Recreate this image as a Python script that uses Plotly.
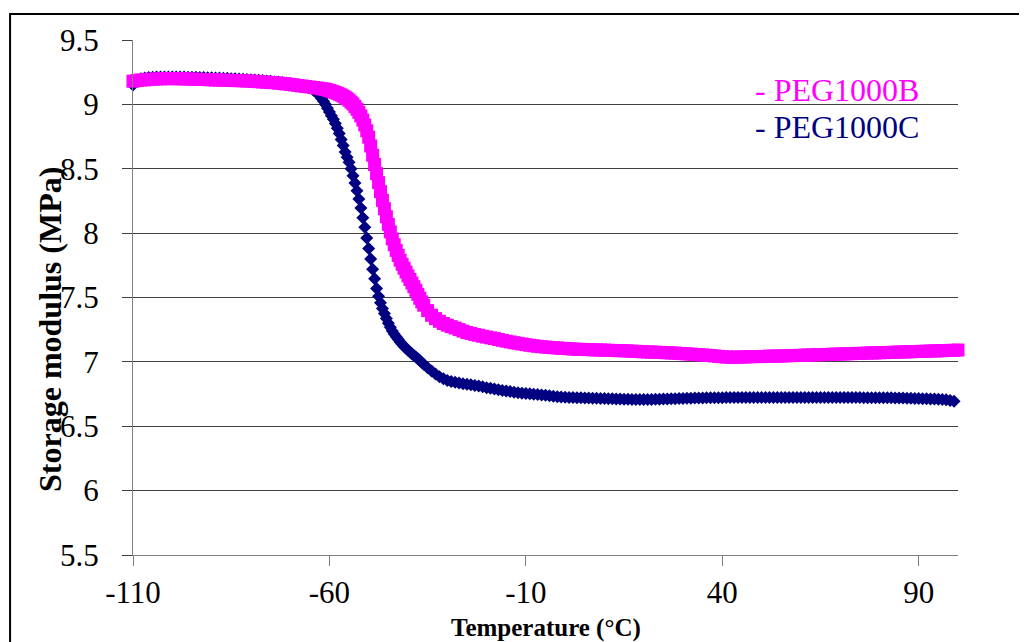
import plotly.graph_objects as go

# Temperature grid (°C) (denser in the transition region)
temps = [
    -110, -109, -108, -107, -106, -105, -104, -103, -102, -101,
    -100, -99, -98, -97, -96, -95, -94, -93, -92, -91,
    -90, -89, -88, -87, -86, -85, -84, -83, -82, -81,
    -80, -79, -78, -77, -76, -75, -74, -73, -72, -71,
    -70, -69, -68, -67, -66, -65, -64, -63,
    -62, -61.5, -61, -60.5, -60, -59.5, -59, -58.5, -58, -57.5,
    -57, -56.5, -56, -55.5, -55, -54.5, -54, -53.5, -53, -52.5,
    -52, -51.5, -51, -50.5, -50, -49.5, -49, -48.5, -48, -47.5,
    -47, -46.5, -46, -45.5, -45, -44.5, -44, -43.5, -43, -42.5,
    -42, -41.5, -41, -40.5, -40, -39.5, -39, -38.5, -38, -37.5,
    -37, -36.5, -36,
    -35, -34, -33, -32, -31,
    -30, -29, -28, -27, -26, -25, -24, -23, -22, -21,
    -20, -19, -18, -17, -16, -15, -14, -13, -12, -11,
    -10, -9, -8, -7, -6, -5, -4, -3, -2, -1,
    0, 1, 2, 3, 4, 5, 6, 7, 8, 9,
    10, 11, 12, 13, 14, 15, 16, 17, 18, 19,
    20, 21, 22, 23, 24, 25, 26, 27, 28, 29,
    30, 31, 32, 33, 34, 35, 36, 37, 38, 39,
    40, 41, 42, 43, 44, 45, 46, 47, 48, 49,
    50, 51, 52, 53, 54, 55, 56, 57, 58, 59,
    60, 61, 62, 63, 64, 65, 66, 67, 68, 69,
    70, 71, 72, 73, 74, 75, 76, 77, 78, 79,
    80, 81, 82, 83, 84, 85, 86, 87, 88, 89,
    90, 91, 92, 93, 94, 95, 96, 97, 98, 99,
    100,
]

peg1000b = [
    9.180, 9.185, 9.190, 9.190, 9.195, 9.195, 9.198, 9.198, 9.200, 9.200,
    9.200, 9.200, 9.199, 9.198, 9.197, 9.196, 9.195, 9.194, 9.193, 9.192,
    9.191, 9.190, 9.189, 9.188, 9.187, 9.186, 9.185, 9.184, 9.183, 9.182,
    9.180, 9.178, 9.176, 9.174, 9.172, 9.170, 9.168, 9.165, 9.162, 9.159,
    9.155, 9.151, 9.147, 9.143, 9.139, 9.135, 9.131, 9.127,
    9.122, 9.120, 9.117, 9.113, 9.108, 9.103, 9.098, 9.092, 9.086, 9.079,
    9.072, 9.064, 9.055, 9.044, 9.032, 9.018, 9.003, 8.984, 8.962, 8.938,
    8.910, 8.878, 8.840, 8.795, 8.745, 8.677, 8.605, 8.533, 8.462, 8.392,
    8.322, 8.255, 8.190, 8.128, 8.068, 8.010, 7.955, 7.910, 7.866, 7.827,
    7.790, 7.758, 7.728, 7.698, 7.668, 7.640, 7.612, 7.584, 7.556, 7.525,
    7.494, 7.466, 7.440,
    7.398, 7.362, 7.336, 7.315, 7.298,
    7.285, 7.274, 7.263, 7.251, 7.239, 7.228, 7.221, 7.213, 7.206, 7.199,
    7.193, 7.187, 7.181, 7.174, 7.167, 7.161, 7.155, 7.149, 7.144, 7.139,
    7.134, 7.129, 7.125, 7.121, 7.118, 7.115, 7.112, 7.110, 7.108, 7.106,
    7.104, 7.102, 7.100, 7.098, 7.097, 7.096, 7.095, 7.094, 7.093, 7.092,
    7.091, 7.090, 7.089, 7.088, 7.087, 7.086, 7.085, 7.083, 7.082, 7.080,
    7.078, 7.077, 7.076, 7.075, 7.074, 7.072, 7.071, 7.069, 7.068, 7.066,
    7.064, 7.062, 7.060, 7.058, 7.056, 7.054, 7.051, 7.049, 7.046, 7.043,
    7.040, 7.038, 7.036, 7.036, 7.037, 7.038, 7.039, 7.040, 7.041, 7.041,
    7.042, 7.043, 7.044, 7.045, 7.045, 7.046, 7.047, 7.048, 7.049, 7.050,
    7.051, 7.052, 7.053, 7.054, 7.055, 7.056, 7.057, 7.058, 7.059, 7.060,
    7.061, 7.062, 7.063, 7.064, 7.065, 7.066, 7.067, 7.068, 7.069, 7.070,
    7.071, 7.072, 7.073, 7.074, 7.075, 7.076, 7.077, 7.078, 7.079, 7.080,
    7.081, 7.082, 7.083, 7.084, 7.085, 7.086, 7.087, 7.088, 7.089, 7.090,
    7.092,
]

peg1000c = [
    9.150, 9.185, 9.200, 9.205, 9.208, 9.210, 9.212, 9.212, 9.213, 9.213,
    9.213, 9.213, 9.212, 9.212, 9.211, 9.210, 9.210, 9.209, 9.208, 9.207,
    9.206, 9.205, 9.204, 9.203, 9.202, 9.200, 9.199, 9.197, 9.195, 9.193,
    9.191, 9.189, 9.187, 9.185, 9.182, 9.179, 9.176, 9.173, 9.170, 9.166,
    9.162, 9.157, 9.152, 9.146, 9.139, 9.128, 9.110, 9.080,
    9.045, 9.025, 9.000, 8.970, 8.940, 8.912, 8.885, 8.852, 8.815, 8.773,
    8.728, 8.680, 8.630, 8.590, 8.550, 8.500, 8.445, 8.390, 8.330, 8.265,
    8.195, 8.120, 8.045, 7.962, 7.880, 7.800, 7.720, 7.645, 7.570, 7.510,
    7.460, 7.415, 7.375, 7.336, 7.300, 7.268, 7.240, 7.216, 7.195, 7.175,
    7.155, 7.137, 7.120, 7.105, 7.090, 7.076, 7.063, 7.050, 7.038, 7.024,
    7.010, 6.996, 6.982,
    6.955, 6.929, 6.905, 6.885, 6.868,
    6.856, 6.848, 6.842, 6.836, 6.831, 6.827, 6.822, 6.817, 6.812, 6.806,
    6.800, 6.795, 6.790, 6.784, 6.778, 6.774, 6.770, 6.765, 6.760, 6.757,
    6.754, 6.752, 6.749, 6.746, 6.743, 6.740, 6.737, 6.733, 6.730, 6.727,
    6.725, 6.724, 6.723, 6.722, 6.721, 6.720, 6.719, 6.718, 6.717, 6.716,
    6.715, 6.714, 6.713, 6.712, 6.711, 6.710, 6.709, 6.708, 6.708, 6.707,
    6.707, 6.707, 6.708, 6.709, 6.710, 6.711, 6.712, 6.713, 6.714, 6.715,
    6.716, 6.717, 6.718, 6.719, 6.720, 6.720, 6.721, 6.721, 6.722, 6.722,
    6.722, 6.723, 6.723, 6.723, 6.723, 6.723, 6.723, 6.723, 6.723, 6.723,
    6.723, 6.723, 6.724, 6.724, 6.724, 6.723, 6.723, 6.723, 6.723, 6.723,
    6.723, 6.724, 6.724, 6.724, 6.723, 6.723, 6.723, 6.723, 6.723, 6.723,
    6.723, 6.723, 6.723, 6.723, 6.723, 6.723, 6.722, 6.722, 6.722, 6.722,
    6.722, 6.722, 6.721, 6.721, 6.720, 6.720, 6.719, 6.718, 6.717, 6.716,
    6.715, 6.714, 6.713, 6.712, 6.711, 6.710, 6.708, 6.705, 6.700, 6.695,
]

x_ticks = [-110, -60, -10, 40, 90]
x_ticktext = ["-110", "-60", "-10", "40", "90"]
y_ticks = [5.5, 6, 6.5, 7, 7.5, 8, 8.5, 9, 9.5]
y_ticktext = ["5.5", "6", "6.5", "7", "7.5", "8", "8.5", "9", "9.5"]
series_names = ["- PEG1000B", "- PEG1000C"]
colors = ["#FF00FF", "#000080"]

FONT = "Liberation Serif, Times New Roman, serif"

fig = go.Figure()
fig.add_trace(go.Scatter(
    x=temps[:len(peg1000c)], y=peg1000c, mode="markers", name=series_names[1],
    cliponaxis=False,
    marker=dict(symbol="diamond", size=10, color=colors[1], line=dict(width=0)),
))
fig.add_trace(go.Scatter(
    x=temps, y=peg1000b, mode="markers", name=series_names[0],
    cliponaxis=False,
    marker=dict(symbol="square", size=13, color=colors[0], line=dict(width=0)),
))

# page has an 8px body margin: figure is sized so the plot lands where the reference has it
fig.update_layout(
    width=1019, height=634,
    margin=dict(l=125, r=69, t=32, b=87),
    paper_bgcolor="white", plot_bgcolor="white",
    showlegend=False,
    font=dict(family=FONT, size=31, color="black"),
)
fig.update_xaxes(
    range=[-110, 100], tickvals=x_ticks, ticktext=x_ticktext, ticks="outside",
    ticklen=10, tickcolor="#808080", tickwidth=1, showline=True,
    linecolor="#808080", linewidth=1, showgrid=False, zeroline=False,
    tickfont=dict(family=FONT, size=31, color="black"),
)
fig.update_yaxes(
    range=[5.5, 9.5], tickvals=y_ticks, ticktext=y_ticktext, ticks="outside",
    ticklen=10, tickcolor="#404040", tickwidth=1, showline=True,
    linecolor="#808080", linewidth=1, showgrid=True, gridcolor="#404040",
    gridwidth=1, zeroline=False, ticklabelstandoff=17,
    tickfont=dict(family=FONT, size=31, color="black"),
)

# white legend box hiding the gridline behind the legend text
fig.add_shape(type="rect", xref="paper", yref="paper", x0=0.73, x1=1.0,
              y0=0.79, y1=0.96, fillcolor="white", line=dict(width=0),
              layer="between")
fig.add_annotation(text=series_names[0], xref="paper", yref="paper",
                   x=0.752, y=0.903, xanchor="left", yanchor="middle",
                   showarrow=False, font=dict(family=FONT, size=32, color=colors[0]))
fig.add_annotation(text=series_names[1], xref="paper", yref="paper",
                   x=0.752, y=0.831, xanchor="left", yanchor="middle",
                   showarrow=False, font=dict(family=FONT, size=32, color=colors[1]))

# axis titles
fig.add_annotation(text="<b>Storage modulus (MPa)</b>", xref="paper", yref="paper",
                   x=-0.1006, y=0.437, xanchor="center", yanchor="middle",
                   textangle=-90, showarrow=False,
                   font=dict(family=FONT, size=32, color="black"))
fig.add_annotation(text="<b>Temperature (°C)</b>", xref="paper", yref="paper",
                   x=0.5, y=-0.142, xanchor="center", yanchor="middle",
                   showarrow=False, font=dict(family=FONT, size=25, color="black"))

# outer chart frame
fig.add_shape(type="rect", xref="paper", yref="paper",
              x0=-0.149, x1=1.09, y0=-0.2, y1=1.0505,
              line=dict(color="black", width=2), fillcolor="rgba(0,0,0,0)",
              layer="above")

fig.write_html("out.html")
